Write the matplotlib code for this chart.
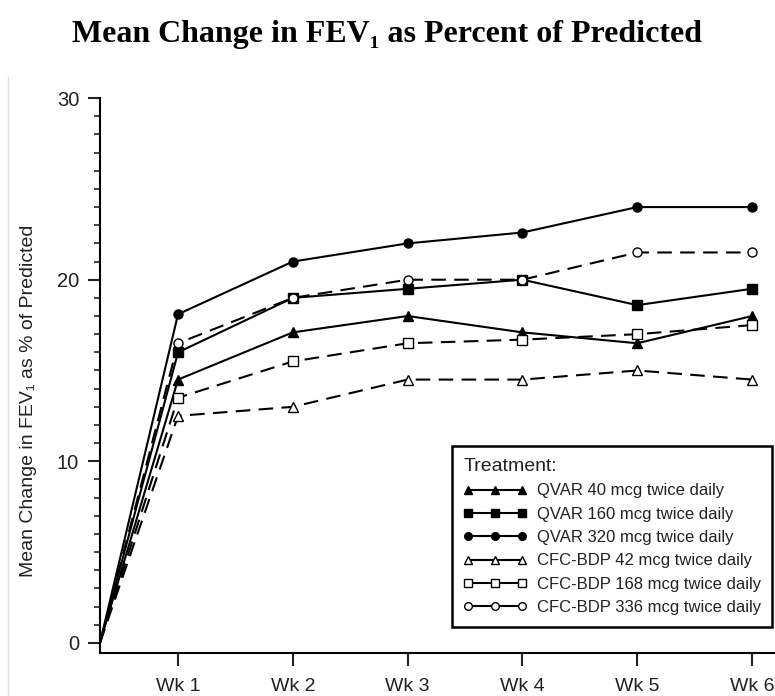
import numpy as np
import matplotlib.pyplot as plt
from matplotlib.ticker import MultipleLocator
from matplotlib.lines import Line2D

# <-- data -->
weeks = [1, 2, 3, 4, 5, 6]
week_labels = ["Wk 1", "Wk 2", "Wk 3", "Wk 4", "Wk 5", "Wk 6"]
start_value = 0

qvar_40 = [14.5, 17.1, 18.0, 17.1, 16.5, 18.0]
qvar_160 = [16.0, 19.0, 19.5, 20.0, 18.6, 19.5]
qvar_320 = [18.1, 21.0, 22.0, 22.6, 24.0, 24.0]
cfc_42 = [12.5, 13.0, 14.5, 14.5, 15.0, 14.5]
cfc_168 = [13.5, 15.5, 16.5, 16.7, 17.0, 17.5]
cfc_336 = [16.5, 19.0, 20.0, 20.0, 21.5, 21.5]

names = ["QVAR 40 mcg twice daily", "QVAR 160 mcg twice daily", "QVAR 320 mcg twice daily",
         "CFC-BDP 42 mcg twice daily", "CFC-BDP 168 mcg twice daily", "CFC-BDP 336 mcg twice daily"]

sans = ["Liberation Sans", "DejaVu Sans"]
serif = ["Liberation Serif", "DejaVu Serif"]
ink = "#222222"

fig = plt.figure(figsize=(7.75, 6.96), dpi=100)
ax = fig.add_axes([0.129, 0.062, 0.871, 0.797])

x0 = 0.32  # left edge of the axis, where all lines start
xs = [x0] + weeks

series = [
    (qvar_40, "^", "black", "-"),
    (qvar_160, "s", "black", "-"),
    (qvar_320, "o", "black", "-"),
    (cfc_42, "^", "white", "--"),
    (cfc_168, "s", "white", "--"),
    (cfc_336, "o", "white", "--"),
]

handles = []
for (vals, mk, fc, ls), name in zip(series, names):
    ys = [start_value] + vals
    line, = ax.plot(xs, ys, color="black", lw=1.5, ls=ls, marker=mk, markersize=6.5,
                    markerfacecolor=fc, markeredgecolor="black", markeredgewidth=1.0,
                    markevery=list(range(1, len(xs))), clip_on=False, zorder=3)
    if ls == "--":
        line.set_dashes((7, 4))
    # legend sample: solid line with three markers
    h, = ax.plot([], [], color="black", lw=1.5, marker=mk, markersize=5.5,
                 markerfacecolor=fc, markeredgecolor="black", markeredgewidth=1.0)
    handles.append(h)

ax.set_xlim(x0, 6.2)
ax.set_ylim(-0.55, 30)

ax.spines["top"].set_visible(False)
ax.spines["right"].set_visible(False)
ax.spines["left"].set_linewidth(1.5)
ax.spines["bottom"].set_linewidth(1.5)

ax.set_xticks(weeks)
ax.set_xticklabels(week_labels, fontsize=14, family=sans, color=ink)
ax.set_yticks([0, 10, 20, 30])
ax.set_yticklabels(["0", "10", "20", "30"], fontsize=14.5, family=sans, color=ink)
ax.yaxis.set_minor_locator(MultipleLocator(1))
ax.tick_params(axis="both", which="major", direction="out", length=9, width=1.5, color=ink)
ax.tick_params(axis="x", which="major", pad=9)
ax.tick_params(axis="y", which="major", pad=6)
ax.tick_params(axis="y", which="minor", direction="out", length=4.5, width=1.2, color=ink)

ax.set_ylabel("Mean Change in FEV\u2081 as % of Predicted", fontsize=14, family=sans, color=ink)
ax.yaxis.set_label_coords(-0.094, 0.455)

leg = ax.legend(handles, names, loc="lower right", bbox_to_anchor=(0.996, 0.047),
                borderaxespad=0, numpoints=3, handlelength=3.8, handletextpad=0.6,
                prop={"family": sans, "size": 12}, title="Treatment:",
                title_fontproperties={"family": sans, "size": 14}, alignment="left",
                fancybox=False, edgecolor="black", framealpha=1, labelspacing=0.5,
                borderpad=0.7)
leg.get_frame().set_linewidth(1.8)
for t in leg.get_texts():
    t.set_color(ink)
leg.get_title().set_color(ink)

fig.text(0.5, 0.95, "Mean Change in FEV\u2081 as Percent of Predicted", ha="center", va="center",
         fontsize=23, fontweight="bold", family=serif)

# faint scan border on the left
fig.add_artist(Line2D([0.0105, 0.0105], [0.0, 0.89], color="#e0e0e0", lw=1))

fig.savefig("out.png", dpi=100)
